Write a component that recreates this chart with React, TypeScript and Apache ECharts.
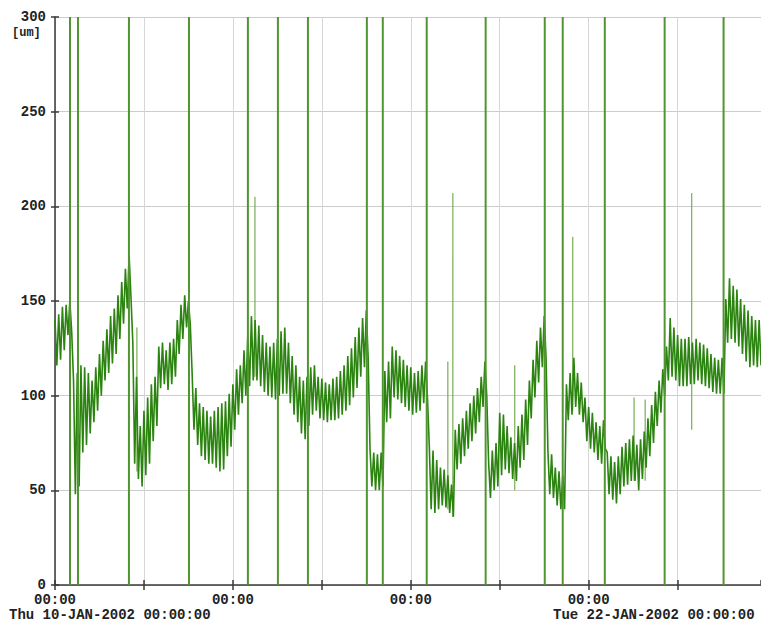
import React, { useEffect, useRef } from "react";
import * as echarts from "echarts";

// hours since Thu 10-JAN-2002 00:00:00; every STEP_HOURS one upper and one lower reading of the noisy trace
const STEP_HOURS = 2;
const MAX_HOURS = 381;
const upper = [
  140, 143, 147, 148, 150, 108, 112, 116, 115, 112,
  108, 115, 122, 129, 135, 142, 146, 153, 160, 167,
  174, 128, 110, 84, 92, 99, 106, 110, 126, 128,
  124, 128, 130, 140, 148, 153, 150, 112, 104, 96,
  94, 92, 89, 92, 94, 96, 97, 101, 106, 114,
  116, 124, 131, 142, 140, 137, 132, 128, 126, 128,
  130, 134, 136, 128, 121, 116, 110, 108, 110, 115,
  116, 110, 109, 107, 106, 109, 110, 113, 116, 121,
  125, 131, 136, 141, 145, 72, 70, 69, 70, 113,
  118, 126, 124, 121, 119, 116, 115, 112, 113, 116,
  118, 73, 71, 66, 62, 61, 58, 53, 82, 85,
  88, 92, 96, 100, 104, 110, 118, 65, 71, 75,
  91, 90, 84, 78, 75, 84, 90, 98, 108, 119,
  129, 136, 142, 71, 69, 62, 60, 58, 106, 112,
  120, 112, 107, 99, 94, 91, 86, 84, 87, 70,
  68, 65, 68, 73, 75, 77, 79, 74, 77, 81,
  88, 95, 102, 108, 114, 126, 141, 136, 132, 130,
  130, 131, 128, 130, 128, 127, 125, 122, 120, 119,
  120, 151, 162, 158, 156, 151, 148, 145, 142, 140,
  140,
];
const lower = [
  116, 119, 124, 132, 134, 48, 52, 70, 74, 80,
  86, 92, 100, 108, 112, 117, 122, 130, 138, 146,
  152, 64, 56, 52, 58, 64, 76, 84, 104, 106,
  103, 106, 110, 122, 130, 136, 138, 82, 74, 68,
  66, 64, 64, 62, 60, 61, 68, 73, 82, 90,
  96, 100, 105, 108, 108, 105, 102, 100, 99, 98,
  100, 101, 101, 96, 90, 86, 80, 77, 84, 90,
  92, 88, 87, 86, 87, 87, 88, 90, 92, 95,
  99, 104, 110, 115, 120, 52, 50, 50, 52, 86,
  88, 99, 98, 96, 94, 92, 90, 91, 92, 96,
  99, 40, 38, 40, 42, 41, 38, 36, 61, 64,
  68, 72, 76, 80, 86, 94, 100, 46, 50, 52,
  58, 61, 59, 56, 55, 62, 66, 74, 88, 99,
  107, 115, 120, 48, 46, 42, 40, 40, 87, 90,
  94, 90, 86, 76, 72, 70, 66, 64, 72, 48,
  45, 43, 48, 52, 53, 55, 55, 50, 56, 62,
  68, 75, 84, 91, 100, 108, 110, 108, 105, 105,
  105, 106, 106, 108, 106, 105, 104, 102, 101, 101,
  101, 128, 130, 128, 126, 122, 118, 115, 116, 115,
  116,
];

// full-range dropouts (0 -> 300)
const spikeHours = [8.1, 12.4, 39.9, 72.3, 104.1, 120.3, 136.5, 168.3, 176.9, 200.6, 232.4, 264.3, 274.0, 296.7, 329.0, 360.8];
// partial glitches
const glitchHours = [44.2, 107.9, 212.0, 214.7, 248.1, 279.4, 312.5, 318.5, 343.6];
const glitchTop = [136, 205, 118, 207, 116, 184, 99, 98, 207];
const glitchBottom = [60, 110, 40, 36, 50, 92, 55, 55, 82];

const X_TICK_HOURS = 48;
const X_LABEL_HOURS = 96;
const X_LABEL_TEXT = "00:00";
const Y_MIN = 0;
const Y_MAX = 300;
const Y_STEP = 50;
const Y_UNIT = "[um]";
const dateLabels = ["Thu 10-JAN-2002 00:00:00", "Tue 22-JAN-2002 00:00:00"];

const FONT = "'Liberation Mono', 'DejaVu Sans Mono', monospace";

export default function App() {
  const ref = useRef<HTMLDivElement>(null);
  useEffect(() => {
    document.body.style.margin = "0";
    if (!ref.current) return;
    const chart = echarts.init(ref.current, null, { renderer: "svg" });

    const mainData: any[] = [];
    upper.forEach((v, i) => {
      mainData.push([i * STEP_HOURS, v]);
      mainData.push([i * STEP_HOURS + STEP_HOURS / 2, lower[i]]);
    });
    const spikeData: any[] = [];
    spikeHours.forEach((h) => {
      spikeData.push([h, Y_MIN], [h, Y_MAX], [h, "-"]);
    });
    const glitchData: any[] = [];
    glitchHours.forEach((h, i) => {
      glitchData.push([h, glitchBottom[i]], [h, glitchTop[i]], [h, "-"]);
    });

    const labelStyle = {
      fontFamily: FONT,
      fontSize: 14,
      fontWeight: "bold" as const,
      color: "#222",
      lineHeight: 12,
    };
    const axisColor = "#3a3a3a";

    chart.setOption({
      animation: false,
      grid: { left: 55, right: 0, top: 17, bottom: 39 },
      xAxis: [
        {
          type: "value",
          min: 0,
          max: MAX_HOURS,
          interval: X_TICK_HOURS,
          axisLine: { show: true, lineStyle: { color: axisColor, width: 1.5 } },
          axisTick: { show: true, length: 5, lineStyle: { color: axisColor, width: 1.5 } },
          axisLabel: {
            ...labelStyle,
            margin: 9,
            showMaxLabel: false,
            formatter: (v: number) => (Math.abs(v % X_LABEL_HOURS) < 1e-6 ? X_LABEL_TEXT : ""),
          },
          splitLine: { show: true, lineStyle: { color: "#d6d6d6", width: 1 } },
        },
        {
          type: "value",
          position: "bottom",
          min: 0,
          max: MAX_HOURS,
          interval: X_TICK_HOURS,
          axisLine: { show: false },
          axisTick: { show: true, inside: true, length: 5, lineStyle: { color: axisColor, width: 1.5 } },
          axisLabel: { show: false },
          splitLine: { show: false },
        },
      ],
      yAxis: [
        {
          type: "value",
          min: Y_MIN,
          max: Y_MAX,
          interval: Y_STEP,
          axisLine: { show: true, lineStyle: { color: axisColor, width: 1.5 } },
          axisTick: { show: true, length: 4, lineStyle: { color: axisColor, width: 1.5 } },
          axisLabel: { ...labelStyle, margin: 9 },
          splitLine: { show: true, lineStyle: { color: "#cccccc", width: 1 } },
        },
        {
          type: "value",
          position: "left",
          min: Y_MIN,
          max: Y_MAX,
          interval: Y_STEP,
          axisLine: { show: false },
          axisTick: { show: true, inside: true, length: 4, lineStyle: { color: axisColor, width: 1.5 } },
          axisLabel: { show: false },
          splitLine: { show: false },
        },
      ],
      series: [
        {
          type: "line",
          data: mainData,
          showSymbol: false,
          symbol: "none",
          lineStyle: { color: "#2c8410", width: 1.6 },
          z: 3,
        },
        {
          type: "line",
          data: glitchData,
          showSymbol: false,
          symbol: "none",
          connectNulls: false,
          lineStyle: { color: "#78ad55", width: 1.2 },
          z: 2,
        },
        {
          type: "line",
          data: spikeData,
          showSymbol: false,
          symbol: "none",
          connectNulls: false,
          lineStyle: { color: "#4f9630", width: 2 },
          z: 4,
        },
      ],
      graphic: [
        {
          type: "text",
          left: 12,
          top: 27,
          style: { text: Y_UNIT, font: `bold 12px ${FONT}`, fill: "#222", lineHeight: 11 },
        },
        {
          type: "text",
          left: 9,
          top: 608,
          style: { text: dateLabels[0], font: `bold 14px ${FONT}`, fill: "#222", lineHeight: 12 },
        },
        {
          type: "text",
          left: 553,
          top: 608,
          style: { text: dateLabels[1], font: `bold 14px ${FONT}`, fill: "#222", lineHeight: 12 },
        },
      ],
    });
    return () => chart.dispose();
  }, []);
  return <div ref={ref} style={{ width: 761, height: 624 }} />;
}
